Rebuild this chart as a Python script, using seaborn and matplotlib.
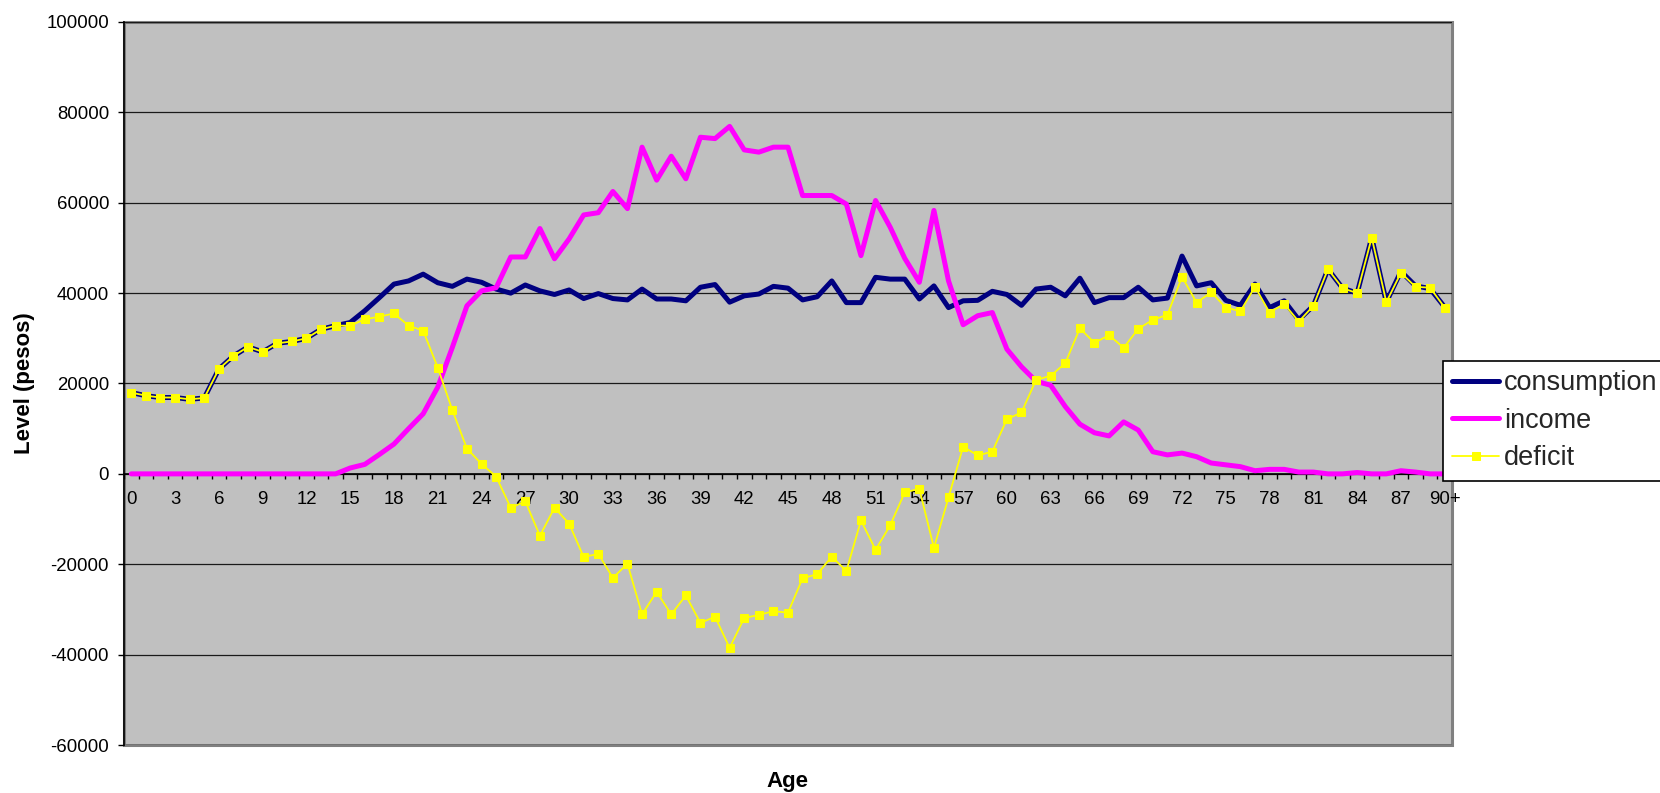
import numpy as np
import pandas as pd
import matplotlib
matplotlib.use("Agg")
import matplotlib.pyplot as plt
from matplotlib.ticker import FixedLocator, NullFormatter
import seaborn as sns

# Age groups (single years, top-coded at 90+)
ages = [str(a) for a in range(90)] + ["90+"]

consumption = [
    18000, 17300, 16900, 16900, 16500, 16800, 23200, 26100, 28100, 27000,
    28900, 29300, 30000, 32000, 32800, 33500, 36100, 39000, 42000, 42700,
    44200, 42300, 41500, 43100, 42400, 40900, 40000, 41800, 40500, 39700,
    40700, 38800, 39900, 38800, 38500, 40900, 38700, 38700, 38300, 41300,
    41900, 38000, 39400, 39800, 41500, 41100, 38500, 39200, 42700, 37900,
    37900, 43500, 43100, 43100, 38700, 41600, 36800, 38300, 38400, 40400,
    39700, 37300, 40900, 41300, 39400, 43300, 37900, 39000, 39000, 41300,
    38500, 38900, 48200, 41600, 42300, 38400, 37300, 42000, 36800, 38300,
    34100, 37200, 45300, 41100, 40000, 52300, 38000, 44800, 41600, 41000,
    36900,
]

income = [
    0, 0, 0, 0, 0, 0, 0, 0, 0, 0,
    0, 0, 0, 0, 0, 1300, 2100, 4300, 6600, 10000,
    13300, 19200, 28000, 37200, 40500, 41200, 48000, 48000, 54300, 47600,
    52000, 57300, 57800, 62500, 58700, 72300, 65000, 70300, 65300, 74500,
    74200, 76900, 71700, 71200, 72300, 72300, 61600, 61600, 61600, 59700,
    48300, 60500, 54600, 47700, 42400, 58300, 42700, 33000, 35000, 35700,
    27600, 23700, 20500, 19600, 14900, 11000, 9100, 8400, 11500, 9700,
    4900, 4200, 4600, 3800, 2400, 2000, 1600, 700, 1000, 1000,
    400, 400, 0, 0, 300, 0, 0, 700, 400, 0,
    0,
]

deficit = [
    18000, 17300, 16900, 16900, 16500, 16800, 23200, 26100, 28100, 27000,
    28900, 29300, 30000, 32000, 32800, 32800, 34200, 34800, 35500, 32800,
    31700, 23500, 14100, 5600, 2200, -600, -7500, -6100, -13700, -7500,
    -11000, -18400, -17700, -23000, -19900, -31100, -26100, -31100, -26900, -33000,
    -31600, -38500, -31900, -31200, -30400, -30700, -23100, -22200, -18300, -21500,
    -10300, -16800, -11400, -4100, -3300, -16400, -5200, 6000, 4100, 4900,
    12100, 13600, 20800, 21700, 24500, 32200, 29000, 30700, 27900, 32100,
    34100, 35200, 43600, 37900, 40200, 36800, 36000, 41400, 35700, 37600,
    33700, 37200, 45300, 41100, 40000, 52300, 38000, 44500, 41400, 41200,
    36800,
]

y_ticks = [-60000, -40000, -20000, 0, 20000, 40000, 60000, 80000, 100000]

sns.set_theme(style="white")
plt.rcParams["font.family"] = ["Liberation Sans", "DejaVu Sans"]

W, H = 1660, 793
fig = plt.figure(figsize=(W / 100, H / 100), dpi=100)
ax = fig.add_axes([124 / W, 1 - 745 / H, (1452 - 124) / W, (745 - 22) / H])

pos = np.arange(len(ages))
df = pd.DataFrame({"pos": pos, "consumption": consumption,
                   "income": income, "deficit": deficit})

sns.lineplot(data=df, x="pos", y="consumption", color="#000080", lw=3.6,
             label="consumption", ax=ax, zorder=3)
sns.lineplot(data=df, x="pos", y="income", color="#FF00FF", lw=3.6,
             label="income", ax=ax, zorder=3)
sns.lineplot(data=df, x="pos", y="deficit", color="#FFFF00", lw=1.3,
             marker="s", markersize=5.5, markeredgecolor="#FFFF00",
             label="deficit", ax=ax, zorder=4)

ax.set_xlim(-0.5, len(ages) - 0.5)
ax.set_ylim(y_ticks[0], y_ticks[-1])
ax.set_facecolor("#C0C0C0")
ax.patch.set_edgecolor("#808080")
ax.patch.set_linewidth(2.2)

# horizontal grid
ax.set_yticks(y_ticks)
ax.set_yticklabels([str(v) for v in y_ticks])
ax.yaxis.grid(True, color="#1a1a1a", lw=0.9)
ax.xaxis.grid(False)
ax.set_axisbelow(True)

# category axis crossing at zero
ax.spines["bottom"].set_position(("data", 0))
ax.spines["bottom"].set_color("black")
ax.spines["bottom"].set_linewidth(1.2)
ax.spines["left"].set_color("black")
ax.spines["left"].set_linewidth(1.2)
ax.spines["top"].set_visible(False)
ax.spines["right"].set_visible(False)

label_pos = pos[::3]
ax.xaxis.set_major_locator(FixedLocator(label_pos))
ax.set_xticklabels([ages[i] for i in label_pos])
ax.xaxis.set_minor_locator(FixedLocator(np.arange(-0.5, len(ages), 1.0)))
ax.xaxis.set_minor_formatter(NullFormatter())
ax.tick_params(axis="x", which="major", length=0, pad=12, labelsize=13.4,
               labelcolor="black")
ax.tick_params(axis="x", which="minor", length=3.8, width=1, direction="out",
               color="black", bottom=True)
ax.tick_params(axis="y", which="major", length=4.3, width=1, direction="out",
               color="black", pad=6.5, labelsize=13.4, labelcolor="black", left=True)

ax.set_xlabel("")
ax.set_ylabel("Level (pesos)", fontsize=16, fontweight="bold", color="black")
ax.yaxis.set_label_coords((35 - 124) / 1328, 0.5)
fig.text(787 / W, 1 - 781 / H, "Age", ha="center", va="center",
         fontsize=16, fontweight="bold", color="black")

handles, labels = ax.get_legend_handles_labels()
ax.legend_.remove()
leg = fig.legend(handles, labels, loc="upper left",
                 bbox_to_anchor=(1443 / W, 1 - 361 / H),
                 bbox_transform=fig.transFigure,
                 fontsize=19.5, frameon=True, fancybox=False, framealpha=1,
                 edgecolor="black", borderpad=0.35, labelspacing=0.42,
                 handlelength=1.7, handletextpad=0.2, borderaxespad=0)
leg.get_frame().set_linewidth(1.2)

fig.savefig("out.png", dpi=100, facecolor="white")
